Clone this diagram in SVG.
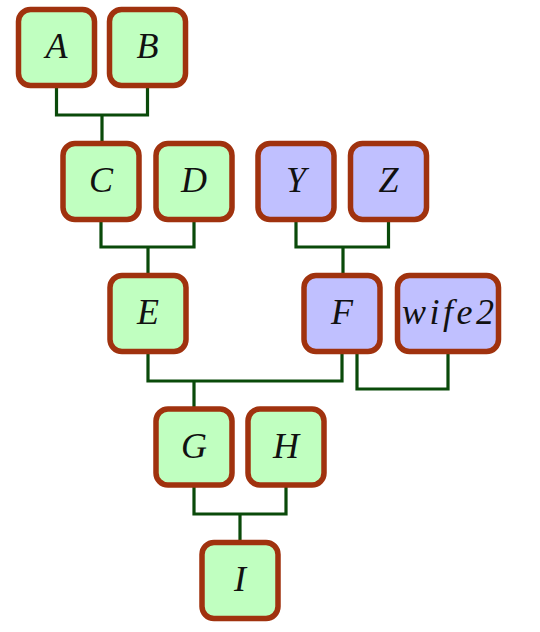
<svg xmlns="http://www.w3.org/2000/svg" width="540" height="632" viewBox="0 0 540 632">
<style>
.g rect{fill:#c0ffc0;stroke:#a0320e;stroke-width:5.5}
.b rect{fill:#c0c0ff;stroke:#a0320e;stroke-width:5.5}
text{font-family:"Liberation Serif","DejaVu Serif",serif;font-style:italic;font-size:36px;fill:#111;text-anchor:middle}
#connectors path{fill:none;stroke:#0a4a0a;stroke-width:3.2}
</style>
<rect width="540" height="632" fill="#fff"/>
<g id="connectors">
<path d="M56.5 88 V115 H147.5 V88 M102 115 V142"/>
<path d="M101 221 V247 H194 V221 M148 247 V274"/>
<path d="M296 221 V247 H388.5 V221 M343 247 V274"/>
<path d="M148 353 V381 H342 V353 M194 381 V407"/>
<path d="M357 353 V389 H448 V353"/>
<path d="M194 487 V514 H286 V487 M240 514 V541"/>
</g>
<g id="A" class="g"><rect x="18.5" y="9.5" width="76" height="76" rx="12"/><text x="56.5" y="58">A</text></g>
<g id="B" class="g"><rect x="109.5" y="9.5" width="76" height="76" rx="12"/><text x="147.5" y="58">B</text></g>
<g id="C" class="g"><rect x="63" y="143.5" width="76" height="76" rx="12"/><text x="101" y="192">C</text></g>
<g id="D" class="g"><rect x="156" y="143.5" width="76" height="76" rx="12"/><text x="194" y="192">D</text></g>
<g id="Y" class="b"><rect x="258" y="143.5" width="76" height="76" rx="12"/><text x="296" y="192">Y</text></g>
<g id="Z" class="b"><rect x="350.5" y="143.5" width="76" height="76" rx="12"/><text x="388.5" y="192">Z</text></g>
<g id="E" class="g"><rect x="110" y="275.5" width="76" height="76" rx="12"/><text x="148" y="324">E</text></g>
<g id="F" class="b"><rect x="304" y="275.5" width="76" height="76" rx="12"/><text x="342" y="324">F</text></g>
<g id="wife2" class="b"><rect x="397.5" y="275.5" width="101" height="76" rx="12"/><text x="448" y="324" textLength="92" lengthAdjust="spacing">wife2</text></g>
<g id="G" class="g"><rect x="156" y="409" width="76" height="76" rx="12"/><text x="194" y="457.5">G</text></g>
<g id="H" class="g"><rect x="248" y="409" width="76" height="76" rx="12"/><text x="286" y="457.5">H</text></g>
<g id="I" class="g"><rect x="202" y="542.5" width="76" height="76" rx="12"/><text x="240" y="591">I</text></g>
</svg>
